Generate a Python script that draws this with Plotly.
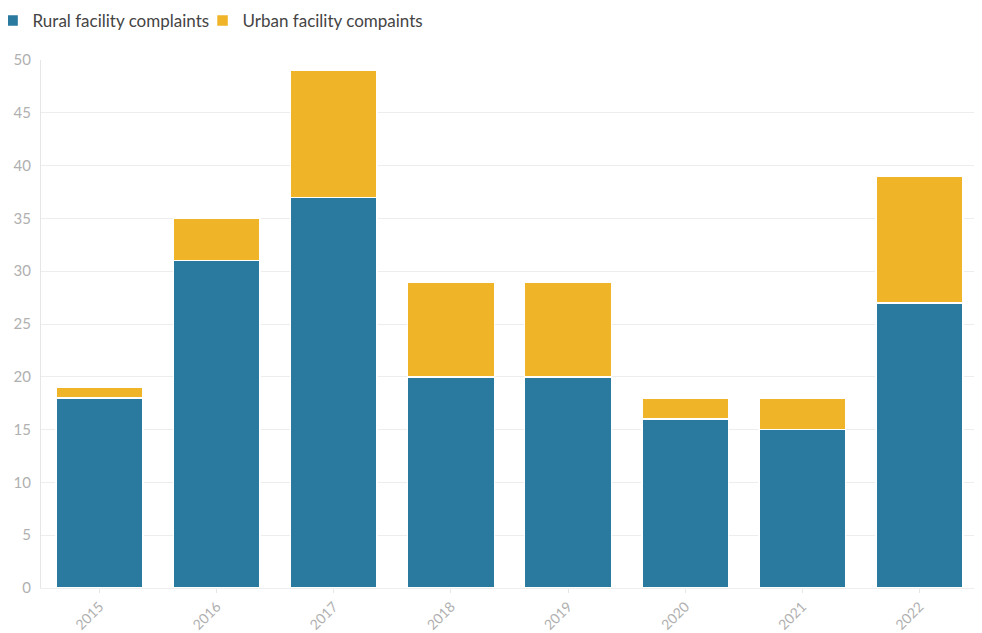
import plotly.graph_objects as go

years = ["2015", "2016", "2017", "2018", "2019", "2020", "2021", "2022"]
rural = [18, 31, 37, 20, 20, 16, 15, 27]
urban = [1, 4, 12, 9, 9, 2, 3, 12]

fig = go.Figure()
fig.add_trace(go.Bar(x=years, y=rural, name="Rural facility complaints", legend="legend",
                     marker=dict(color="#2a799f", line=dict(color="white", width=1.5))))
fig.add_trace(go.Bar(x=years, y=urban, name="Urban facility compaints", legend="legend2",
                     marker=dict(color="#efb428", line=dict(color="white", width=1.5))))

leg_common = dict(orientation="h", xref="paper", yref="paper", xanchor="left",
                  y=1.108, yanchor="top", font=dict(size=17, color="#444"),
                  itemwidth=30, bgcolor="rgba(0,0,0,0)")

fig.update_layout(
    barmode="stack",
    bargap=0.26,
    width=974, height=625,
    margin=dict(l=33, r=4, t=52, b=45, autoexpand=False),
    paper_bgcolor="white", plot_bgcolor="white",
    font=dict(family="Lato, Open Sans, sans-serif"),
    legend=dict(x=-0.0517, **leg_common),
    legend2=dict(x=0.1724, **leg_common),
    showlegend=True,
)
fig.update_xaxes(tickangle=-45, tickfont=dict(size=14, color="#b0b0b0"),
                 ticks="outside", ticklen=4, tickcolor="#e6e6e6", automargin=False,
                 showline=True, linecolor="#eeeeee", showgrid=False)
fig.update_yaxes(range=[0, 50], dtick=5, tickfont=dict(size=15, color="#b0b0b0"),
                 gridcolor="#ededed", showline=True, linecolor="#e6e6e6", automargin=False,
                 ticks="outside", ticklen=6, tickcolor="white", zeroline=False)

fig.write_html("out.html")
